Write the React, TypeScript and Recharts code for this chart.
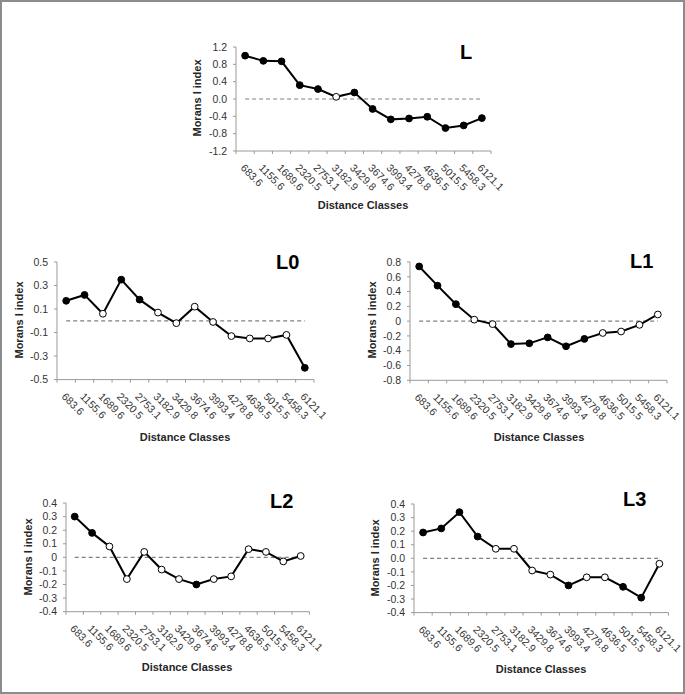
import { LineChart, Line, XAxis, YAxis, ReferenceLine } from "recharts"

const distanceClasses = [
  "683.6", "1155.6", "1689.6", "2320.5", "2753.1", "3182.9", "3429.8",
  "3674.6", "3993.4", "4278.8", "4636.5", "5015.5", "5458.3", "6121.1",
]

// Moran's I per distance class; 1 = significant (filled marker), 0 = not
const lValues = [1.0, 0.88, 0.87, 0.32, 0.23, 0.05, 0.15, -0.23, -0.47, -0.45, -0.41, -0.67, -0.61, -0.44]
const lSignificant = [1, 1, 1, 1, 1, 0, 1, 1, 1, 1, 1, 1, 1, 1]
const lTicks = [-1.2, -0.8, -0.4, 0, 0.4, 0.8, 1.2]

const l0Values = [0.17, 0.22, 0.06, 0.35, 0.18, 0.07, -0.02, 0.12, -0.01, -0.13, -0.15, -0.15, -0.12, -0.4]
const l0Significant = [1, 1, 0, 1, 1, 0, 0, 0, 0, 0, 0, 0, 0, 1]
const l0Ticks = [-0.5, -0.3, -0.1, 0.1, 0.3, 0.5]

const l1Values = [0.74, 0.48, 0.23, 0.02, -0.04, -0.31, -0.3, -0.22, -0.34, -0.24, -0.16, -0.14, -0.05, 0.09]
const l1Significant = [1, 1, 1, 0, 0, 1, 1, 1, 1, 1, 0, 0, 0, 0]
const l1Ticks = [-0.8, -0.6, -0.4, -0.2, 0, 0.2, 0.4, 0.6, 0.8]

const l2Values = [0.3, 0.18, 0.08, -0.16, 0.04, -0.09, -0.16, -0.2, -0.16, -0.14, 0.06, 0.04, -0.03, 0.01]
const l2Significant = [1, 1, 0, 0, 0, 0, 0, 1, 0, 0, 0, 0, 0, 0]
const l2Ticks = [-0.4, -0.3, -0.2, -0.1, 0, 0.1, 0.2, 0.3, 0.4]

const l3Values = [0.19, 0.22, 0.34, 0.16, 0.07, 0.07, -0.09, -0.12, -0.2, -0.14, -0.14, -0.21, -0.29, -0.04]
const l3Significant = [1, 1, 1, 1, 0, 0, 0, 0, 1, 0, 0, 1, 1, 0]
const l3Ticks = [-0.4, -0.3, -0.2, -0.1, 0, 0.1, 0.2, 0.3, 0.4]

const FONT = '"Liberation Sans", Arial, sans-serif'
const AXIS = "#9a9a9a"
const TEXT = "#333333"
const Y_W = 40
const X_H = 50

interface Rect {
  x: number
  y: number
  w: number
  h: number
}

interface PanelProps {
  values: number[]
  significant: number[]
  ticks: number[]
  plainZero?: boolean
  plot: Rect
}

function Panel({ values, significant, ticks, plainZero, plot }: PanelProps) {
  const data = distanceClasses.map((d, i) => ({ distance: d, moran: values[i], sig: significant[i] }))
  const band = plot.w / distanceClasses.length
  const last = distanceClasses.length - 1
  const ml = 20
  const mt = 10
  const mr = 40
  const mb = 20
  const width = plot.w + ml + Y_W + mr
  const height = plot.h + mt + X_H + mb

  const fmt = (v: number) => (plainZero && v === 0 ? "0" : v.toFixed(1))

  const renderTick = (p: any) => {
    const { x, y, payload, index } = p
    return (
      <g>
        <line x1={x - band / 2} x2={x - band / 2} y1={y} y2={y + 3} stroke={AXIS} />
        {index === last && <line x1={x + band / 2} x2={x + band / 2} y1={y} y2={y + 3} stroke={AXIS} />}
        <text
          transform={`translate(${x - 2.5},${y + 15}) rotate(45)`}
          dy="0.35em"
          textAnchor="start"
          fontSize={10.5}
          fontFamily={FONT}
          fill={TEXT}
        >
          {payload.value}
        </text>
      </g>
    )
  }

  const renderDot = (p: any) => (
    <circle
      key={`dot-${p.index}`}
      cx={p.cx}
      cy={p.cy}
      r={3.4}
      fill={p.payload.sig ? "#000" : "#fff"}
      stroke="#000"
      strokeWidth={1}
    />
  )

  return (
    <div style={{ position: "absolute", left: plot.x - ml - Y_W, top: plot.y - mt }}>
      <LineChart width={width} height={height} data={data} margin={{ top: mt, left: ml, right: mr, bottom: mb }}>
        <XAxis
          dataKey="distance"
          type="category"
          scale="band"
          interval={0}
          height={X_H}
          tickSize={0}
          tickMargin={0}
          tickLine={false}
          axisLine={{ stroke: AXIS }}
          tick={renderTick}
        />
        <YAxis
          type="number"
          domain={[ticks[0], ticks[ticks.length - 1]]}
          ticks={ticks}
          interval={0}
          width={Y_W}
          tickSize={3}
          tickMargin={6}
          tickLine={{ stroke: AXIS }}
          axisLine={{ stroke: AXIS }}
          tickFormatter={fmt}
          tick={{ fontSize: 10.5, fontFamily: FONT, fill: TEXT }}
        />
        <ReferenceLine
          segment={[
            { x: distanceClasses[0], y: 0 },
            { x: distanceClasses[last], y: 0 },
          ]}
          stroke="#808080"
          strokeWidth={1.2}
          strokeDasharray="4 3"
        />
        <Line
          type="linear"
          dataKey="moran"
          stroke="#000"
          strokeWidth={2}
          dot={renderDot}
          activeDot={false}
          isAnimationActive={false}
        />
      </LineChart>
    </div>
  )
}

interface Labels {
  title: string
  tx: number
  ty: number
  yx: number
  yy: number
  xx: number
  xy: number
}

const labels: Labels[] = [
  { title: "L", tx: 460, ty: 59, yx: 197, yy: 98, xx: 363, xy: 205 },
  { title: "L0", tx: 276, ty: 269, yx: 19, yy: 320, xx: 185, xy: 437 },
  { title: "L1", tx: 630, ty: 268, yx: 372, yy: 320, xx: 539, xy: 437 },
  { title: "L2", tx: 270, ty: 508, yx: 28, yy: 557, xx: 187, xy: 667 },
  { title: "L3", tx: 623, ty: 506, yx: 375, yy: 558, xx: 541, xy: 669 },
]

export default function App() {
  return (
    <div
      style={{
        position: "relative",
        width: 685,
        height: 694,
        boxSizing: "border-box",
        border: "2px solid #8c8c8c",
        background: "#fff",
        overflow: "hidden",
      }}
    >
      <style>{"body{margin:0}"}</style>
      <div style={{ position: "absolute", left: -2, top: -2 }}>
        <Panel values={lValues} significant={lSignificant} ticks={lTicks} plot={{ x: 236, y: 46.7, w: 255, h: 104 }} />
        <Panel values={l0Values} significant={l0Significant} ticks={l0Ticks} plot={{ x: 56.5, y: 261.7, w: 257, h: 117.6 }} />
        <Panel values={l1Values} significant={l1Significant} ticks={l1Ticks} plainZero plot={{ x: 410, y: 261.7, w: 257, h: 118.3 }} />
        <Panel values={l2Values} significant={l2Significant} ticks={l2Ticks} plainZero plot={{ x: 66.3, y: 503, w: 243.4, h: 108.7 }} />
        <Panel values={l3Values} significant={l3Significant} ticks={l3Ticks} plot={{ x: 413.6, y: 503.7, w: 254.5, h: 108.6 }} />
        <svg width={685} height={694} style={{ position: "absolute", left: 0, top: 0, pointerEvents: "none" }}>
          {labels.map((l) => (
            <g key={l.title} fontFamily={FONT} fontWeight="bold">
              <text x={l.tx} y={l.ty} fontSize={20} fill="#000">
                {l.title}
              </text>
              <text
                transform={`translate(${l.yx + 4},${l.yy}) rotate(-90)`}
                textAnchor="middle"
                fontSize={11}
                fill="#262626"
              >
                Morans I index
              </text>
              <text x={l.xx} y={l.xy + 4} textAnchor="middle" fontSize={11}  fill="#262626">
                Distance Classes
              </text>
            </g>
          ))}
        </svg>
      </div>
    </div>
  )
}
